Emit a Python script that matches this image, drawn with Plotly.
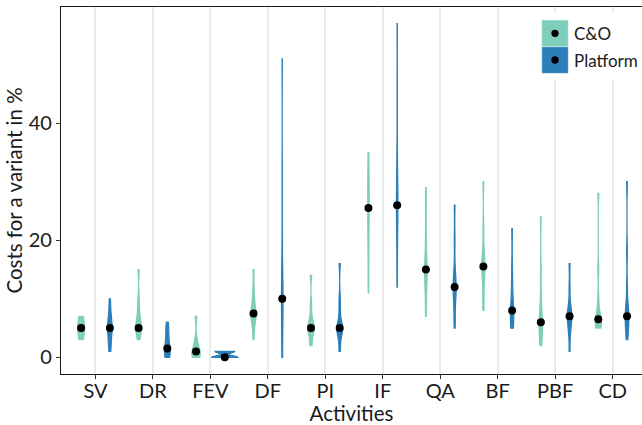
import numpy as np
import plotly.graph_objects as go

activities = ["SV", "DR", "FEV", "DF", "PI", "IF", "QA", "BF", "PBF", "CD"]
group_names = ["C&O", "Platform"]
group_colors = ["#7fcdbb", "#2c7fb8"]

# estimated cost samples (%) per activity
co_costs = [
    [3, 3, 4, 4, 5, 5, 5, 6, 6, 7, 7],
    [3, 4, 5, 5, 5, 5, 6, 7, 8, 10, 15],
    [0, 0, 0, 1, 1, 1, 2, 3, 7],
    [3, 5, 6, 7, 7, 7, 8, 8, 9, 10, 12, 15],
    [2, 3, 4, 5, 5, 5, 5, 6, 7, 9, 14],
    [11, 15, 20, 22, 25, 26, 28, 30, 32, 35],
    [7, 10, 12, 14, 15, 15, 15, 17, 20, 25, 29],
    [8, 10, 13, 15, 15, 16, 16, 18, 22, 30],
    [2, 3, 4, 5, 6, 6, 6, 8, 10, 15, 24],
    [5, 5, 5, 6, 6, 6, 7, 7, 8, 10, 15, 28],
]
platform_costs = [
    [1, 2, 3, 4, 5, 5, 5, 6, 7, 8, 10],
    [0, 0, 1, 1, 1, 2, 3, 4, 5, 6],
    [0, 0, 0, 0, 0, 0, 0, 0, 1, 1, 1, 1, 1, 1],
    [0, 2, 5, 8, 10, 10, 10, 12, 15, 20, 30, 51],
    [1, 3, 4, 5, 5, 5, 5, 6, 8, 10, 16],
    [12, 18, 22, 25, 26, 26, 28, 30, 35, 45, 57],
    [5, 7, 10, 11, 12, 12, 13, 15, 20, 26],
    [5, 5, 6, 7, 8, 8, 9, 12, 15, 22],
    [1, 4, 5, 6, 7, 7, 7, 8, 9, 12, 16],
    [3, 4, 5, 6, 7, 7, 7, 8, 9, 12, 18, 30],
]
y_ticks = [0, 20, 40]

FONT = "Lato"
TICK_SIZE = 20
TITLE_SIZE = 20.5
LEGEND_SIZE = 17
DODGE = 0.25
MAX_W = 0.45


def nrd0(v):
    v = np.asarray(v, float)
    sd = v.std(ddof=1)
    q75, q25 = np.percentile(v, [75, 25])
    lo = min(sd, (q75 - q25) / 1.34)
    if lo <= 0:
        lo = sd if sd > 0 else 1.0
    return 0.9 * lo * len(v) ** -0.2


def peak_density(v, bw):
    v = np.asarray(v, float)
    grid = np.linspace(v.min(), v.max(), 512)
    d = np.exp(-0.5 * ((grid[:, None] - v[None, :]) / bw) ** 2).sum(1)
    return d.max() / (len(v) * bw * np.sqrt(2 * np.pi))


groups = [co_costs, platform_costs]
bws = [[nrd0(s) for s in g] for g in groups]
peaks = [[peak_density(s, b) for s, b in zip(g, bg)] for g, bg in zip(groups, bws)]
gmax = max(max(p) for p in peaks)

fig = go.Figure()
for gi, (g, color) in enumerate(zip(groups, group_colors)):
    off = -DODGE if gi == 0 else DODGE
    for ai, samples in enumerate(g):
        pos = ai + 1 + off
        fig.add_trace(go.Violin(
            x=[pos] * len(samples), y=samples,
            width=MAX_W * peaks[gi][ai] / gmax,
            bandwidth=bws[gi][ai], spanmode="hard",
            scalemode="width", scalegroup=f"g{gi}_{ai}",
            fillcolor=color, line=dict(color=color, width=1.2),
            opacity=1, points=False, box_visible=False, meanline_visible=False,
            showlegend=False, name=group_names[gi], hoverinfo="y",
        ))
    fig.add_trace(go.Scatter(
        x=[ai + 1 + off for ai in range(len(g))],
        y=[float(np.median(s)) for s in g],
        mode="markers", marker=dict(color="black", size=8),
        showlegend=False, hoverinfo="y",
    ))

W, H = 642, 425
L, R, T, B = 61, 0, 7, 51
pw, ph = W - L - R, H - T - B


def px(x):
    return (x - L) / pw


def py(y):
    return (H - B - y) / ph


shapes = [dict(type="rect", xref="paper", yref="paper", x0=px(536), x1=px(650),
               y0=py(80), y1=py(13), fillcolor="white", line=dict(width=0), layer="above")]
annotations = []
key_tops = [20, 46.7]
for gi, (name, color) in enumerate(zip(group_names, group_colors)):
    yt = key_tops[gi]
    yb = yt + 26.7
    yc = (yt + yb) / 2
    shapes.append(dict(type="rect", xref="paper", yref="paper", x0=px(541.7), x1=px(568.3),
                       y0=py(yb), y1=py(yt), fillcolor=color,
                       line=dict(color="white", width=0.5), layer="above"))
    shapes.append(dict(type="circle", xref="paper", yref="paper",
                       x0=px(555 - 3.7), x1=px(555 + 3.7), y0=py(yc + 3.7), y1=py(yc - 3.7),
                       fillcolor="black", line=dict(width=0), layer="above"))
    annotations.append(dict(xref="paper", yref="paper", x=px(572), y=py(yc), text=name,
                            showarrow=False, xanchor="left", yanchor="middle",
                            font=dict(family=FONT, size=LEGEND_SIZE, color="#1a1a1a")))

fig.update_layout(
    width=W, height=H, margin=dict(l=L, r=R, t=T, b=B, pad=0, autoexpand=False),
    plot_bgcolor="white", paper_bgcolor="white",
    violinmode="overlay",
    font=dict(family=FONT, size=TICK_SIZE, color="#1a1a1a"),
    shapes=shapes, annotations=annotations, showlegend=False,
    xaxis=dict(range=[0.4, 10 + (W - 612.7) / 57.4], tickvals=list(range(1, 11)),
               ticktext=activities, showgrid=True, gridcolor="#ebebeb", gridwidth=1.5,
               zeroline=False, showline=True, linecolor="#1a1a1a", linewidth=1.3, mirror=True,
               ticks="outside", ticklen=4, tickcolor="#333333", tickwidth=1.2, automargin=False,
               ticklabelstandoff=-5,
               title=dict(text="Activities", standoff=0, font=dict(family=FONT, size=TITLE_SIZE)),
               tickfont=dict(family=FONT, size=TICK_SIZE)),
    yaxis=dict(range=[-2.85, 59.85], tickvals=y_ticks, showgrid=False, zeroline=False,
               showline=True, linecolor="#1a1a1a", linewidth=1.3, automargin=False,
               ticks="outside", ticklen=4, tickcolor="#333333", tickwidth=1.2,
               title=dict(text="Costs for a variant in %", standoff=0, font=dict(family=FONT, size=TITLE_SIZE)),
               tickfont=dict(family=FONT, size=TICK_SIZE)),
)

fig.write_html("out.html", config={"displayModeBar": False},
               post_script="document.body.style.margin='0';document.body.style.overflow='hidden';")
